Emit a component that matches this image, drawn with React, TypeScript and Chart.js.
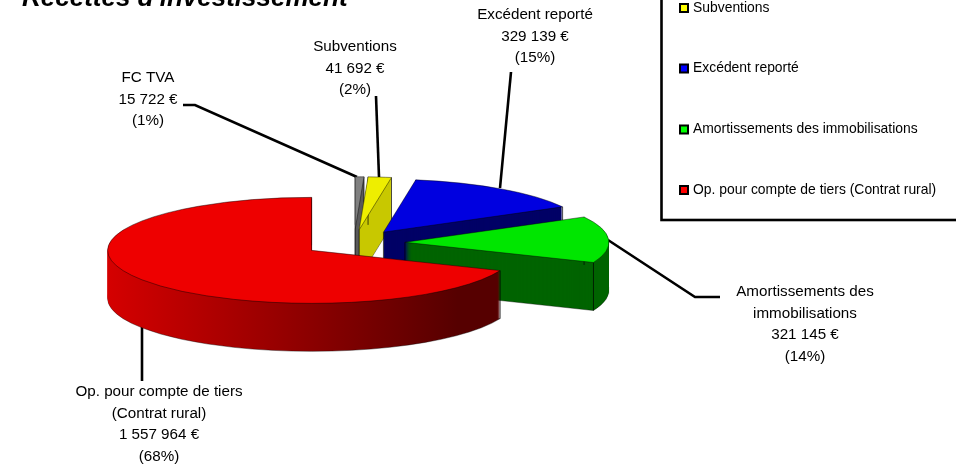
import React, { useEffect, useRef } from "react";
import { Chart, registerables } from "chart.js";

Chart.register(...registerables);

const categories = ["FC TVA", "Subventions", "Excédent reporté", "Amortissements des immobilisations", "Op. pour compte de tiers (Contrat rural)"];
const amounts = [15722, 41692, 329139, 321145, 1557964];
const percents = ["1%", "2%", "15%", "14%", "68%"];
const calloutNames = [["FC TVA"], ["Subventions"], ["Excédent reporté"], ["Amortissements des", "immobilisations"], ["Op. pour compte de tiers", "(Contrat rural)"]];
const topColors = ["#808080", "#eeee00", "#0000e0", "#00e600", "#ee0000"];
const wallColors = ["#5c5c5c", "#c8c800", "#000066", "#006400", "#b00000"];
const legendColors = ["#808080", "#ffff00", "#0000ff", "#00ff00", "#ff0000"];
const titleText = "Recettes d'investissement";

// layout only
const FONT = '"Liberation Sans", Arial, sans-serif';
const RADIUS = 204, SQUASH = 53 / 204, CENTER_Y = 243, EXPLODE = 51, DEPTH = 48;
const calloutPos = [
  { x: 148, y: 78 }, { x: 355, y: 47 }, { x: 535, y: 15 }, { x: 805, y: 292 }, { x: 159, y: 392 },
];
const LINE_H = 21.6;
const leaders = [
  [[183, 105], [195, 105], [357, 177]],
  [[376, 96], [379, 177]],
  [[511, 72], [500, 188]],
  [[720, 297], [695, 297], [608, 240]],
  [[142, 327], [142, 381]],
];
const legendRows = [8, 68.5, 129.5, 190];

const fmt = (n: number) => String(n).replace(/\B(?=(\d{3})+$)/g, " ") + " €";

const pie3d = {
  id: "pie3d",
  beforeDatasetDraw(chart: any, args: any) {
    const ctx = chart.ctx;
    const arcs = args.meta.data;
    const cy = arcs[0].y;
    const base = CENTER_Y - SQUASH * cy;
    const redGrad = ctx.createLinearGradient(arcs[0].x - RADIUS - EXPLODE * 0.83, 0, arcs[0].x + 146, 0);
    redGrad.addColorStop(0, "#e40000");
    redGrad.addColorStop(1, "#560000");

    arcs.forEach((arc: any, i: number) => {
      const mid = (arc.startAngle + arc.endAngle) / 2;
      const dx = Math.cos(mid) * EXPLODE, dy = Math.sin(mid) * EXPLODE;
      const paint = (shift: number, fill: any, border: number) => {
        const clone = Object.create(arc);
        clone.options = { ...arc.options, backgroundColor: fill, borderColor: "#000", borderWidth: border, offset: 0, spacing: 0, borderRadius: 0 };
        ctx.save();
        ctx.translate(dx, base + shift + SQUASH * dy);
        ctx.scale(1, SQUASH);
        clone.draw(ctx);
        ctx.restore();
      };
      const wall = i === 4 ? redGrad : wallColors[i];
      paint(DEPTH, wall, 0.6);
      for (let d = DEPTH - 1; d >= 1; d--) paint(d, wall, 0);
      // vertical arrises of the solid
      ctx.save();
      ctx.strokeStyle = "#000";
      ctx.lineWidth = 0.7;
      const corners = [[arc.x + dx, cy + dy], ...[arc.startAngle, arc.endAngle].map((a: number) => [arc.x + dx + RADIUS * Math.cos(a), cy + dy + RADIUS * Math.sin(a)])];
      corners.forEach(([x, y]) => {
        const sy = base + SQUASH * y;
        ctx.beginPath();
        ctx.moveTo(x, sy);
        ctx.lineTo(x, sy + DEPTH);
        ctx.stroke();
      });
      ctx.restore();
      paint(0, topColors[i], 0.7);
    });
    return false;
  },
  beforeDatasetsDraw(chart: any) {
    const ctx = chart.ctx;
    ctx.save();
    ctx.strokeStyle = "#000";
    ctx.lineWidth = 2.6;
    ctx.lineJoin = "miter";
    leaders.forEach((pts) => {
      ctx.beginPath();
      pts.forEach(([x, y], j) => (j ? ctx.lineTo(x, y) : ctx.moveTo(x, y)));
      ctx.stroke();
    });
    ctx.restore();
  },
  afterDraw(chart: any) {
    const ctx = chart.ctx;
    ctx.save();
    ctx.fillStyle = "#000";

    // title
    ctx.font = `italic bold 26px ${FONT}`;
    ctx.textAlign = "left";
    ctx.textBaseline = "alphabetic";
    ctx.fillText(titleText, 22, 6);

    // callouts
    ctx.textBaseline = "middle";
    ctx.textAlign = "center";
    ctx.font = `15.2px ${FONT}`;
    categories.forEach((_, i) => {
      const lines = [...calloutNames[i], fmt(amounts[i]), `(${percents[i]})`];
      lines.forEach((t, j) => ctx.fillText(t, calloutPos[i].x, calloutPos[i].y + j * LINE_H));
    });

    // legend box (its top runs off the page)
    ctx.strokeStyle = "#000";
    ctx.lineWidth = 2.6;
    ctx.strokeRect(661.5, -10, 320, 230);
    ctx.textAlign = "left";
    ctx.font = `13.9px ${FONT}`;
    categories.slice(1).forEach((name, i) => {
      const y = legendRows[i];
      ctx.fillStyle = "#000";
      ctx.fillRect(679, y - 5, 10, 10);
      ctx.fillStyle = legendColors[i + 1];
      ctx.fillRect(681, y - 3, 6, 6);
      ctx.fillStyle = "#000";
      ctx.fillText(name, 693, y);
    });
    ctx.restore();
  },
};

export default function App() {
  const ref = useRef<HTMLCanvasElement>(null);
  useEffect(() => {
    const chart = new Chart(ref.current!, {
      type: "pie",
      data: { labels: categories, datasets: [{ data: amounts, backgroundColor: topColors }] },
      options: {
        animation: false,
        responsive: false,
        radius: RADIUS,
        layout: { padding: { right: 248 } },
        plugins: { legend: { display: false }, tooltip: { enabled: false }, title: { display: false } },
      } as any,
      plugins: [pie3d],
    });
    return () => chart.destroy();
  }, []);
  return (
    <div style={{ position: "fixed", left: 0, top: 0, width: 956, height: 468, background: "#fff" }}>
      <canvas ref={ref} width={956} height={468} style={{ display: "block" }} />
    </div>
  );
}
